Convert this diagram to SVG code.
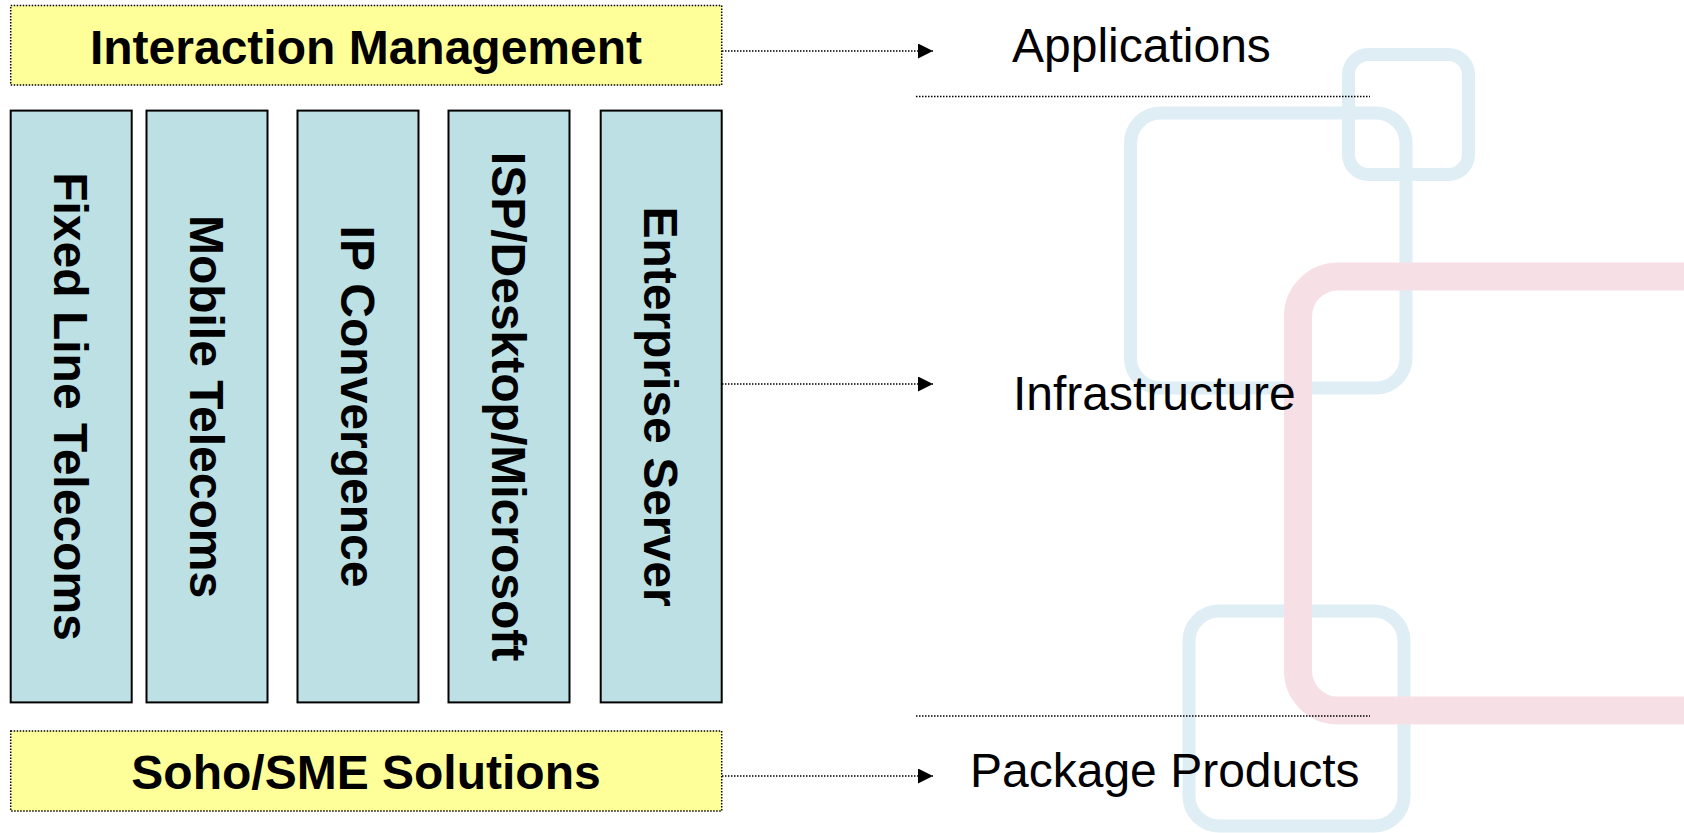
<svg xmlns="http://www.w3.org/2000/svg" width="1684" height="833" viewBox="0 0 1684 833">
<style>
.yel{fill:#FFFF99;stroke:#000;stroke-width:1.5;stroke-dasharray:1.5 1.5}
.teal{fill:#BCE0E3;stroke:#000;stroke-width:2}
.bt{font-family:"Liberation Sans",Arial,sans-serif;font-weight:bold;font-size:48px;fill:#000;text-anchor:middle}
.rt{font-family:"Liberation Sans",Arial,sans-serif;font-size:48px;fill:#000}
.deco-b{fill:none;stroke:#DFEEF5;stroke-width:13}
.deco-p{fill:none;stroke:#F6DFE5;stroke-width:28}
.dot{fill:none;stroke:#000;stroke-width:1.5;stroke-dasharray:1.5 1.5}
</style>
<defs>
<marker id="arr" viewBox="0 0 15 15" refX="15" refY="7.5" markerWidth="15" markerHeight="15" markerUnits="userSpaceOnUse" orient="auto">
<path d="M0,0 L15,7.5 L0,15 Z" fill="#000"/>
</marker>
</defs>
<rect width="1684" height="833" fill="#FFFFFF"/>
<g id="decoration">
<rect class="deco-b" x="1348.5" y="54.5" width="120" height="120" rx="20"/>
<rect class="deco-b" x="1130.5" y="113" width="275.5" height="275" rx="30"/>
<rect class="deco-b" x="1189" y="611" width="215" height="215" rx="30"/>
<rect class="deco-p" x="1298" y="276.5" width="500" height="434" rx="40"/>
</g>
<g id="separators">
<line class="dot" x1="916" y1="96.5" x2="1370" y2="96.5"/>
<line class="dot" x1="916" y1="716" x2="1370" y2="716"/>
</g>
<g id="interaction-management">
<rect class="yel" x="10.7" y="5.5" width="711" height="79.5"/>
<text class="bt" x="366" y="64">Interaction Management</text>
</g>
<g id="fixed-line">
<rect class="teal" x="10.7" y="110.6" width="121" height="591.8"/>
<text class="bt" transform="translate(71,406.5) rotate(90)" x="0" y="17">Fixed Line Telecoms</text>
</g>
<g id="mobile">
<rect class="teal" x="146.5" y="110.6" width="121" height="591.8"/>
<text class="bt" transform="translate(207,406.5) rotate(90)" x="0" y="17">Mobile Telecoms</text>
</g>
<g id="ip-convergence">
<rect class="teal" x="297.5" y="110.6" width="121" height="591.8"/>
<text class="bt" transform="translate(358,406.5) rotate(90)" x="0" y="17">IP Convergence</text>
</g>
<g id="isp">
<rect class="teal" x="448.5" y="110.6" width="121" height="591.8"/>
<text class="bt" transform="translate(509,406.5) rotate(90)" x="0" y="17">ISP/Desktop/Microsoft</text>
</g>
<g id="enterprise">
<rect class="teal" x="600.7" y="110.6" width="121" height="591.8"/>
<text class="bt" transform="translate(661,406.5) rotate(90)" x="0" y="17">Enterprise Server</text>
</g>
<g id="soho">
<rect class="yel" x="10.7" y="731" width="711" height="80"/>
<text class="bt" x="366" y="789">Soho/SME Solutions</text>
</g>
<g id="connectors">
<line class="dot" x1="722" y1="51" x2="933" y2="51" marker-end="url(#arr)"/>
<line class="dot" x1="722" y1="384" x2="933" y2="384" marker-end="url(#arr)"/>
<line class="dot" x1="722" y1="776" x2="933" y2="776" marker-end="url(#arr)"/>
</g>
<g id="applications">
<text class="rt" x="1012" y="62">Applications</text>
</g>
<g id="infrastructure">
<text class="rt" x="1013" y="410">Infrastructure</text>
</g>
<g id="package-products">
<text class="rt" x="970" y="787">Package Products</text>
</g>
</svg>
